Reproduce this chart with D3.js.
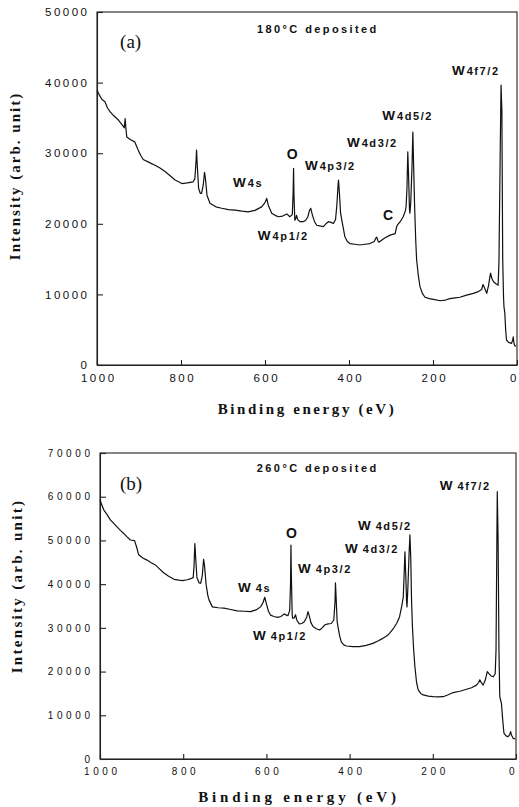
<!DOCTYPE html>
<html>
<head>
<meta charset="utf-8">
<script src="https://cdn.jsdelivr.net/npm/d3@7"></script>
<style>
  html, body { margin: 0; padding: 0; background: #fff; }
  svg { display: block; }
</style>
</head>
<body>
<svg id="chart" width="519" height="807"></svg>
<script>
// ---------------- DATA ----------------
const xTicks = [1000, 800, 600, 400, 200, 0];
const yTicksA = [0, 10000, 20000, 30000, 40000, 50000];
const yTicksB = [0, 10000, 20000, 30000, 40000, 50000, 60000, 70000];

// Panel (a): 180 °C deposited — binding energy (eV) and intensity
const energyA = [1000,995,988,981,975,969,960,949,940,935,933,931,929,920,910,902,896,890,876,862,850,838,826,814,798,785,771,767,764,763,761,758,754,751,747,744,742,738,731,717,703,687,671,655,640,624,608,600,596,592,584,576,568,558,548,541,535,533,532,531,529,527,525,522,517,509,503,498,494,491,487,482,477,470,461,455,449,443,437,432,429,426,425,423,420,417,413,410,404,398,386,374,362,350,340,336,334,331,329,315,302,290,287,285,278,271,266,264,262,260,258,256,255,253,250,248,246,244,243,241,239,235,231,225,219,209,199,183,170,160,148,136,120,104,92,84,81,78,72,68,63,60,56,50,45,43,40,38,36,35,34,32,31,29,27,25,20,13,10,9,7,5,2];
const intensityA = [38900,38300,37600,37300,36400,35900,35300,34700,34000,33600,34900,33400,32300,31900,31600,30450,29700,29100,28700,28300,27900,27400,26800,26200,25700,25800,25950,26400,29000,30450,28000,25000,24300,24300,25500,27300,26500,24000,22900,22400,22200,22000,21950,21800,21700,21900,22400,23000,23600,22600,21500,21200,21000,21100,21400,21000,21300,24500,27850,24000,20500,20700,21200,20600,20300,20300,20500,21000,21900,22200,21200,20300,19800,19700,19600,20000,20300,20200,20050,20600,22600,25500,26200,24500,21500,20500,19200,18200,17500,17200,17100,17000,17100,17200,17500,18000,18100,17600,17400,18000,18400,18600,19500,19800,20300,21000,21800,22500,25000,30200,26500,22000,21500,23000,28000,33000,28000,23000,21000,17500,14900,12700,11100,10100,9600,9400,9300,9100,9200,9400,9500,9600,9900,10150,10400,10700,11400,11000,10150,11200,13000,12300,11800,11500,11300,14500,30000,39650,36000,25000,14900,9500,8250,7350,5000,3540,3200,3070,3600,4000,3000,2700,2700];

// Panel (b): 260 °C deposited
const energyB = [1000,996,991,983,975,967,959,951,943,935,927,917,912,907,897,887,877,867,857,847,835,822,810,802,790,782,776,774,772,770,767,762,758,754,751,749,745,741,738,730,716,702,686,670,654,638,625,614,608,604,600,595,590,582,573,565,557,552,548,544,542,541,540,538,537,533,530,527,521,515,509,503,500,497,493,488,480,472,466,460,452,444,438,435,434,432,430,428,424,420,414,408,392,376,360,344,332,320,310,304,295,287,280,275,271,269,267,265,263,262,260,257,255,253,251,249,246,243,239,235,229,223,211,199,187,175,163,151,135,119,107,95,90,87,83,79,74,69,64,60,55,50,48,46,45,43,41,39,37,35,32,29,24,19,15,13,11,6.5,2];
const intensityB = [59300,58200,57000,55900,54700,53900,53100,52300,51600,50800,50100,49950,48500,46700,46000,45500,44900,44400,43500,42600,41800,41100,40900,40800,41000,41250,41500,44000,49300,46000,41500,40300,40200,42000,45700,44500,40000,37500,36400,34800,34600,34500,34200,33900,33800,33700,34100,34800,35800,37000,35500,33800,32900,32600,32400,32600,33200,32900,32800,34000,40000,48950,42000,33000,32200,32300,33000,31800,30900,31000,31400,32500,33700,32800,31200,30300,29800,29500,30000,30650,30900,31000,31800,36000,40300,36000,31500,30300,28200,26800,26100,25850,25700,25700,26000,26450,27000,27600,28200,28750,29800,31000,32500,34800,37000,42000,47400,42000,36000,34800,39000,47000,51250,46000,36000,30300,25000,21100,17500,15800,15000,14650,14400,14250,14200,14250,14700,15200,15500,15950,16300,16900,17500,18100,17400,16900,18000,20000,19400,19000,18800,19500,25000,50000,61150,50000,25000,14250,13500,12700,9000,5900,5300,5100,5600,6250,5500,4700,4600];

// Annotation texts
const peakNamesA = ["W 4f7/2", "W 4d5/2", "W 4d3/2", "O", "W 4p3/2", "W 4s", "W 4p1/2", "C"];
const peakNamesB = ["W 4f7/2", "W 4d5/2", "W 4d3/2", "O", "W 4p3/2", "W 4s", "W 4p1/2"];
const titleA = "180°C deposited";
const titleB = "260°C deposited";

// ---------------- DRAWING ----------------
const svg = d3.select("#chart");
const SANS = "'Liberation Sans', Arial, Helvetica, sans-serif";
const SERIF = "'Liberation Serif', 'Times New Roman', Times, serif";

const panels = [
  { tag: "(a)", energy: energyA, intensity: intensityA, yTicks: yTicksA, yMax: 50000,
    left: 97, right: 517, top: 12, bottom: 365,
    tickFont: 11.5, tickLS: 2.5, xTitleX: 307, xTitleY: 414, xTitleLS: 2.6,
    yTitleX: 20, yTitleY: 176, yTitleLS: 2.0,
    title: titleA, names: peakNamesA,
    anchors: [[155,41075],[321,34700],[405,30880],[548,29180],[505,27620],[676,25210],[617,17700],[319,20540]],
    titleAnchor: [619, 47020], tagAnchor: [945, 44900], tightW: true },
  { tag: "(b)", energy: energyB, intensity: intensityB, yTicks: yTicksB, yMax: 70000,
    left: 100, right: 516, top: 453, bottom: 759,
    tickFont: 10, tickLS: 3.6, xTitleX: 299, xTitleY: 802, xTitleLS: 3.8,
    yTitleX: 22, yTitleY: 586, yTitleLS: 2.3,
    title: titleB, names: peakNamesB,
    anchors: [[183,61540],[380,52390],[411,47130],[553,50550],[524,42550],[668,38200],[632,27220]],
    titleAnchor: [623, 65650], tagAnchor: [952, 61540], tightW: false }
];

panels.forEach(p => {
  const x = d3.scaleLinear().domain([1000, 0]).range([p.left, p.right]);
  const y = d3.scaleLinear().domain([0, p.yMax]).range([p.bottom, p.top]);
  const g = svg.append("g");

  // frame
  g.append("rect")
    .attr("x", p.left).attr("y", p.top)
    .attr("width", p.right - p.left).attr("height", p.bottom - p.top)
    .attr("fill", "none").attr("stroke", "#222").attr("stroke-width", 1.1);

  // x axis
  const xAx = g.append("g").attr("transform", `translate(0,${p.bottom})`)
    .call(d3.axisBottom(x).tickValues(xTicks).tickFormat(d3.format("d"))
      .tickSizeInner(-5).tickSizeOuter(0).tickPadding(9));
  xAx.select(".domain").attr("stroke", "#222").attr("stroke-width", 1.1);
  xAx.selectAll(".tick line").attr("stroke", "#222").attr("stroke-width", 1.1);
  xAx.selectAll(".tick text")
    .attr("font-family", SANS).attr("font-size", p.tickFont)
    .attr("letter-spacing", p.tickLS).attr("fill", "#111")
    .attr("dx", d => d === 0 ? -3 : p.tickLS / 2);

  // y axis
  const yAx = g.append("g").attr("transform", `translate(${p.left},0)`)
    .call(d3.axisLeft(y).tickValues(p.yTicks).tickFormat(d3.format("d"))
      .tickSizeInner(-6).tickSizeOuter(0).tickPadding(10 - p.tickLS));
  yAx.select(".domain").attr("stroke", "#222").attr("stroke-width", 1.1);
  yAx.selectAll(".tick line").attr("stroke", "#222").attr("stroke-width", 1.1);
  yAx.selectAll(".tick text")
    .attr("font-family", SANS).attr("font-size", p.tickFont)
    .attr("letter-spacing", p.tickLS).attr("fill", "#111");

  // spectrum
  const pts = p.energy.map((e, i) => [e, p.intensity[i]]);
  g.append("path").datum(pts)
    .attr("fill", "none").attr("stroke", "#111").attr("stroke-width", 1.2)
    .attr("stroke-linejoin", "round")
    .attr("d", d3.line().x(d => x(d[0])).y(d => y(d[1])));

  // axis titles
  g.append("text")
    .attr("x", p.xTitleX).attr("y", p.xTitleY)
    .attr("text-anchor", "middle")
    .attr("font-family", SERIF).attr("font-weight", "bold").attr("font-size", 15)
    .attr("letter-spacing", p.xTitleLS).attr("fill", "#111")
    .text("Binding energy (eV)");
  g.append("text")
    .attr("transform", `translate(${p.yTitleX},${p.yTitleY}) rotate(-90)`)
    .attr("text-anchor", "middle")
    .attr("font-family", SERIF).attr("font-weight", "bold").attr("font-size", 15)
    .attr("letter-spacing", p.yTitleLS).attr("fill", "#111")
    .text("Intensity (arb. unit)");

  // panel tag
  g.append("text")
    .attr("x", x(p.tagAnchor[0])).attr("y", y(p.tagAnchor[1]))
    .attr("font-family", SERIF).attr("font-size", 19).attr("fill", "#111")
    .text(p.tag);

  // deposition title
  g.append("text")
    .attr("x", x(p.titleAnchor[0])).attr("y", y(p.titleAnchor[1]))
    .attr("font-family", SANS).attr("font-weight", "bold").attr("font-size", 11)
    .attr("letter-spacing", 2.4).attr("fill", "#111")
    .text(p.title);

  // peak labels
  p.names.forEach((name, i) => {
    const [ae, ai] = p.anchors[i];
    const t = g.append("text")
      .attr("x", x(ae)).attr("y", y(ai))
      .attr("font-family", SANS).attr("font-weight", "bold").attr("fill", "#111");
    if (name.startsWith("W ")) {
      t.append("tspan").attr("font-size", 13.5).text("W");
      t.append("tspan").attr("font-size", 11).attr("dx", p.tightW ? 2 : 5)
        .attr("letter-spacing", 1.6).text(name.slice(2));
    } else {
      t.attr("font-size", 14).text(name);
    }
  });
});
</script>
</body>
</html>
